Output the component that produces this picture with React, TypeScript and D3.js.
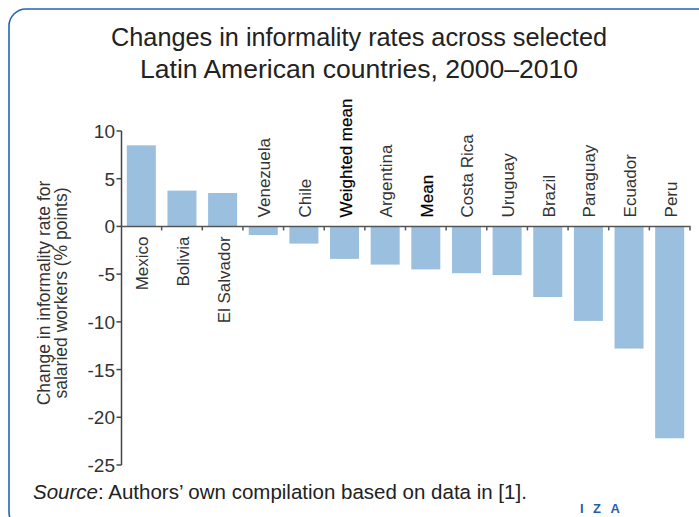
import React from "react";
import * as d3 from "d3";

const categories = [
  "Mexico", "Bolivia", "El Salvador", "Venezuela", "Chile", "Weighted mean",
  "Argentina", "Mean", "Costa Rica", "Uruguay", "Brazil", "Paraguay", "Ecuador", "Peru",
];
const values = [8.5, 3.75, 3.5, -0.9, -1.8, -3.4, -4.0, -4.5, -4.9, -5.1, -7.4, -9.9, -12.8, -22.2];
const emphasized = ["Weighted mean", "Mean"];
const yTicks = [10, 5, 0, -5, -10, -15, -20, -25];
const titleLines = ["Changes in informality rates across selected", "Latin American countries, 2000–2010"];
const yLabelLines = ["Change in informality rate for", "salaried workers (% points)"];

const W = 699;
const H = 517;
const FONT = "'Liberation Sans', Arial, sans-serif";

export default function App() {
  const x = d3.scaleBand<string>().domain(categories).range([121, 690]).paddingInner(0.286).paddingOuter(0.143);
  const y = d3.scaleLinear().domain([-25, 10]).range([465, 131]);
  const step = x.step();
  const y0 = y(0);
  const boundaries = categories.slice(1).map((c) => (x(c) as number) - (step * 0.286) / 2);
  boundaries.push(690);

  return (
    <svg width={W} height={H} style={{ position: "absolute", left: 0, top: 0, background: "#fff" }}>
      <rect x={9} y={9} width={800} height={520} rx={17} ry={17} fill="none" stroke="#2266b3" strokeWidth={1.6} />
      <g fontFamily={FONT} fill="#222" fontSize={26} textAnchor="middle">
        <text x={359} y={46} textLength={496} lengthAdjust="spacingAndGlyphs">{titleLines[0]}</text>
        <text x={359} y={78} textLength={438} lengthAdjust="spacingAndGlyphs">{titleLines[1]}</text>
      </g>
      {/* y label */}
      <g fontFamily={FONT} fill="#333" fontSize={17.5} textAnchor="middle">
        {yLabelLines.map((t, i) => (
          <text key={i} transform={`translate(${50 + i * 16.5},293) rotate(-90)`}>{t}</text>
        ))}
      </g>
      {/* bars */}
      <g>
        {categories.map((c, i) => (
          <rect
            key={c}
            x={x(c)}
            width={x.bandwidth()}
            y={y(Math.max(0, values[i]))}
            height={Math.abs(y(values[i]) - y0)}
            fill="#9bbfdf"
          />
        ))}
      </g>
      {/* y axis */}
      <g stroke="#444" strokeWidth={1.5}>
        <line x1={121.5} x2={121.5} y1={y(10)} y2={y(-25)} />
        {yTicks.map((t) => (
          <line key={t} x1={116.5} x2={121.5} y1={y(t)} y2={y(t)} />
        ))}
      </g>
      <g fontFamily={FONT} fill="#333" fontSize={19} textAnchor="end">
        {yTicks.map((t) => (
          <text key={t} x={115} y={y(t) + 7}>{t}</text>
        ))}
      </g>
      {/* x axis */}
      <g stroke="#555" strokeWidth={1.5}>
        <line x1={121} x2={690.5} y1={y0} y2={y0} />
        {boundaries.map((b, i) => (
          <line key={i} x1={b} x2={b} y1={y0} y2={y0 + 4} />
        ))}
      </g>
      <g fontFamily={FONT} fontSize={17}>
        {categories.map((c, i) => {
          const cx = (x(c) as number) + x.bandwidth() / 2 + 7;
          const pos = values[i] >= 0;
          const ly = pos ? y0 + 10 : y0 - 9;
          const emph = emphasized.includes(c);
          return (
            <text
              key={c}
              transform={`translate(${cx},${ly}) rotate(-90)`}
              textAnchor={pos ? "end" : "start"}
              fill={emph ? "#000" : "#333"}
              stroke={emph ? "#000" : "none"}
              strokeWidth={emph ? 0.2 : 0}
            >
              {c}
            </text>
          );
        })}
      </g>
      {/* source */}
      <text x={33} y={499} fontFamily={FONT} fontSize={20.5} fill="#222">
        <tspan fontStyle="italic">Source</tspan>: Authors’ own compilation based on data in [1].
      </text>
      <text x={580} y={513} fontFamily={FONT} fontSize={13} fontWeight="bold" fill="#1f5fae" letterSpacing={9.5}>
        IZA
      </text>
    </svg>
  );
}
